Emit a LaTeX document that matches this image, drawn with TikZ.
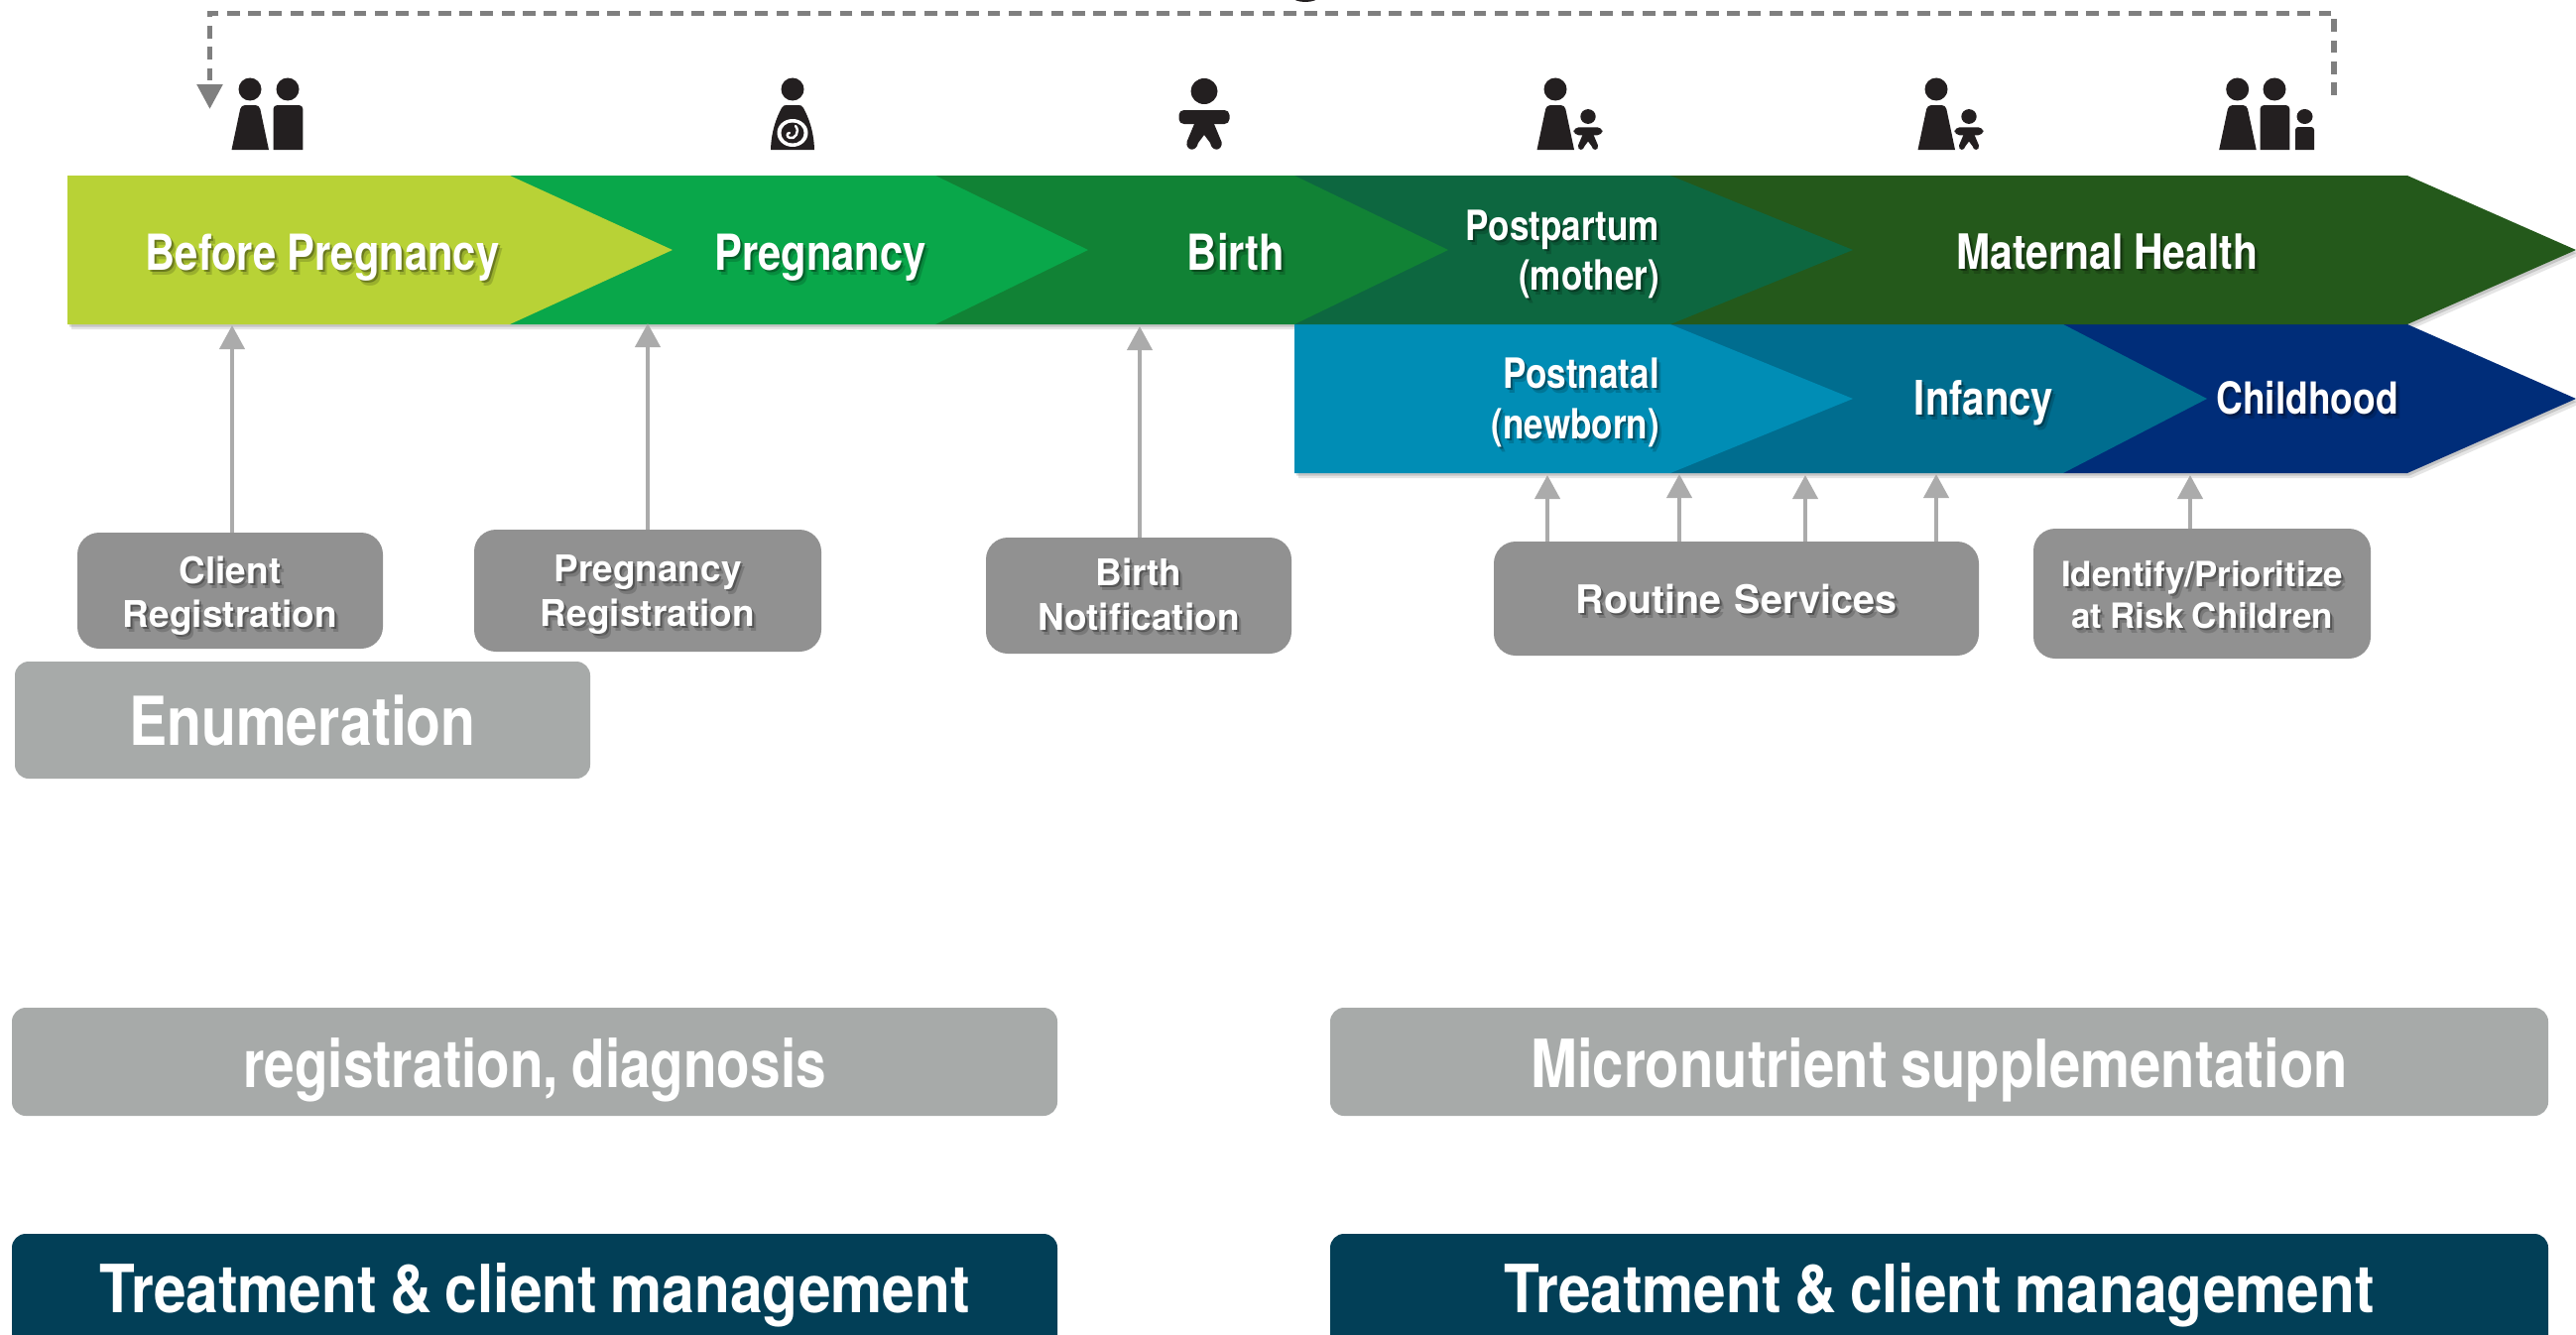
\documentclass[tikz,border=0pt]{standalone}
\usepackage{fontspec}
\usetikzlibrary{arrows.meta,calc}
\setmainfont{TeX Gyre Heros}
\newfontfamily\condf[FakeStretch=0.835,WordSpace=0.95]{TeX Gyre Heros}
\newfontfamily\boxf[FakeStretch=0.84]{TeX Gyre Heros}
\newfontfamily\regf[FakeStretch=0.82]{TeX Gyre Heros}
\newfontfamily\treatf[FakeStretch=0.875]{TeX Gyre Heros}
\definecolor{cLime}{HTML}{B8D236}
\definecolor{cGreen}{HTML}{09A74A}
\definecolor{cBirth}{HTML}{118235}
\definecolor{cPost}{HTML}{0D6740}
\definecolor{cMat}{HTML}{24591B}
\definecolor{cNewb}{HTML}{008DB5}
\definecolor{cInf}{HTML}{006D8F}
\definecolor{cChild}{HTML}{002D79}
\definecolor{cBox}{HTML}{919191}
\definecolor{cLight}{HTML}{A7AAA9}
\definecolor{cDark}{HTML}{023F57}
\definecolor{cArrow}{HTML}{ABABAB}
\definecolor{cDash}{HTML}{7F7F7F}
\definecolor{cIcon}{HTML}{231F20}
\tikzset{
  lab/.style={inner sep=0pt,outer sep=0pt,text=white,font=\bfseries},
  boxnode/.style={lab,rectangle,anchor=north west,align=center},
  softa/.style={lab,text=black,text opacity=.30},
  softb/.style={lab,text=black,text opacity=.16},
  upar/.style={draw=cArrow,line width=4pt,-{Triangle[length=24pt,width=25pt,fill=cArrow]}},
  looppath/.style={draw=cDash,line width=5.5pt,dash pattern=on 12.8pt off 8.5pt,-{Triangle[length=25pt,width=25pt,fill=cDash]}},
  woman/.pic={
    \fill[cIcon] (0,0) circle [x radius=11.5pt,y radius=11.5pt];
    \fill[cIcon] (-18.5,61) [rounded corners=4pt] -- (-9,16) -- (9.5,16) [sharp corners] -- (19,61) -- cycle;
  },
  man/.pic={
    \fill[cIcon] (0,0) circle [x radius=11.5pt,y radius=11.5pt];
    \fill[cIcon] (-14.5,61) [rounded corners=4pt] -- (-14.5,16) -- (15.4,16) [sharp corners] -- (15.4,61) -- cycle;
  },
  expecting/.pic={
    \fill[cIcon] (0,0) circle [x radius=11.5pt,y radius=11.5pt];
    \fill[cIcon] (-22,61) .. controls (-21.5,42) and (-16,28) .. (-11,19) .. controls (-10,16.5) and (-8,16) .. (-6,16) -- (6,16) .. controls (8,16) and (10,16.5) .. (11,19) .. controls (16,28) and (21.5,42) .. (22,61) -- cycle;
    \fill[white] (0,44) circle [x radius=15.5pt,y radius=14pt];
    \fill[cIcon] (0,44) circle [x radius=11.5pt,y radius=10.5pt];
    \draw[white,line width=2.4pt,line cap=round] (3,37) .. controls (8,43) and (2,51) .. (-3,49) .. controls (-6,48) and (-6,44) .. (-3,44);
  },
  infant/.pic={
    \fill[cIcon] (0,0) circle [x radius=13.5pt,y radius=13pt];
    \fill[cIcon,rounded corners=5pt] (-25.5,19) rectangle (25.5,33);
    \fill[cIcon] (-10,30) -- (-10,33) -- (-17.5,51) .. controls (-19,60) and (-8,62) .. (-6,52) -- (0,44) -- (6,52) .. controls (8,62) and (19,60) .. (17.5,51) -- (10,33) -- (10,30) -- cycle;
  },
  kid/.pic={
    \fill[cIcon] (0,0) circle [x radius=8pt,y radius=7.5pt];
    \fill[cIcon] (-9.5,33.5) [rounded corners=3pt] -- (-9.5,10.5) -- (9.5,10.5) [sharp corners] -- (9.5,33.5) -- cycle;
  }
}
% row shadow: left, top, shoulder, tip
\newcommand\rowshade[4]{%
  \fill[black,opacity=.10] ($(#1,#2)+(4,5)$) -- ($(#3,#2)+(4,5)$) -- ($(#4,#2+75)+(4,5)$) -- ($(#3,#2+150)+(4,5)$) -- ($(#1,#2+150)+(4,5)$) -- cycle;
  \fill[black,opacity=.14] ($(#1,#2)+(2,2.5)$) -- ($(#3,#2)+(2,2.5)$) -- ($(#4,#2+75)+(2,2.5)$) -- ($(#3,#2+150)+(2,2.5)$) -- ($(#1,#2+150)+(2,2.5)$) -- cycle;
}
% chevron: left, top, shoulder, tip, colour
\newcommand\chev[5]{%
  \fill[#5] (#1,#2) -- (#3,#2) -- (#4,#2+75) -- (#3,#2+150) -- (#1,#2+150) -- cycle;
}
% chevron label: name, x, baseline of the last line, anchor, align, font, text
\newcommand\chlab[7]{%
  \node[softb,anchor=#4,align=#5,font=\bfseries#6] (#1s2) at (#2+4,#3+5) {#7};
  \node[softa,anchor=#4,align=#5,font=\bfseries#6] (#1s1) at (#2+2,#3+2.5) {#7};
  \node[lab,anchor=#4,align=#5,font=\bfseries#6] (#1) at (#2,#3) {#7};
}
% box: name, colour, x0, y0, w, h, first baseline, radius, font; text in \boxtext
\newcommand\boxplain[9]{%
  \pgfmathsetmacro\depthv{#6-#7}%
  \node[boxnode,fill=#2,rounded corners=#8pt,font=\bfseries#9,text width=#5pt,text height=#7pt,text depth=\depthv pt,minimum height=#6pt] (#1) at (#3,#4) {\boxtext};
}
\newcommand\boxsoft[9]{%
  \pgfmathsetmacro\depthv{#6-#7}%
  \pgfmathsetmacro\xa{#3+2}\pgfmathsetmacro\ya{#4+2.5}%
  \pgfmathsetmacro\xb{#3+4}\pgfmathsetmacro\yb{#4+5}%
  \fill[#2,rounded corners=#8pt] (#3,#4) rectangle ++(#5,#6);
  \node[softb,anchor=north west,align=center,font=\bfseries#9,text width=#5pt,text height=#7pt,text depth=\depthv pt] (#1s2) at (\xb,\yb) {\boxtext};
  \node[softa,anchor=north west,align=center,font=\bfseries#9,text width=#5pt,text height=#7pt,text depth=\depthv pt] (#1s1) at (\xa,\ya) {\boxtext};
  \node[boxnode,font=\bfseries#9,text width=#5pt,text height=#7pt,text depth=\depthv pt,minimum height=#6pt] (#1) at (#3,#4) {\boxtext};
}
\begin{document}
\begin{tikzpicture}[x=1pt,y=-1pt]
\useasboundingbox (0,0) rectangle (2597,1346);
% clipped fragment at the upper edge
\fill[cIcon] (1316,-3) circle [x radius=13pt,y radius=5pt];
% chevrons
\rowshade{68}{177}{2427}{2597}
\rowshade{1305}{327}{2427}{2597}
\chev{2080}{327}{2427}{2597}{cChild}
\chev{1684}{327}{2080}{2225}{cInf}
\chev{1305}{327}{1684}{1868}{cNewb}
\chev{1684}{177}{2427}{2597}{cMat}
\chev{1305}{177}{1684}{1868}{cPost}
\chev{943}{177}{1305}{1460}{cBirth}
\chev{514}{177}{943}{1097}{cGreen}
\chev{68}{177}{514}{678}{cLime}
% chevron labels
\chlab{before}{325}{272}{base}{center}{\condf\fontsize{50}{50}\selectfont}{Before Pregnancy}
\chlab{preg}{827}{272}{base}{center}{\condf\fontsize{50}{50}\selectfont}{Pregnancy}
\chlab{birth}{1246}{272}{base}{center}{\condf\fontsize{50}{50}\selectfont}{Birth}
\chlab{postp}{1673}{292}{base east}{right}{\condf\fontsize{42}{50}\selectfont}{Postpartum\\(mother)}
\chlab{matern}{2124.5}{271}{base}{center}{\condf\fontsize{49}{50}\selectfont}{Maternal Health}
\chlab{postn}{1673}{442}{base east}{right}{\condf\fontsize{42}{51}\selectfont}{Postnatal\\(newborn)}
\chlab{infancy}{2000}{418}{base}{center}{\condf\fontsize{48}{50}\selectfont}{Infancy}
\chlab{childh}{2326}{417}{base}{center}{\condf\fontsize{44.5}{50}\selectfont}{Childhood}
% boxes
\def\boxtext{Client\\Registration}
\boxsoft{client}{cBox}{78}{537}{308}{117}{51}{22}{\fontsize{37}{44}\selectfont}
\def\boxtext{Pregnancy\\Registration}
\boxsoft{pregreg}{cBox}{478}{534}{350}{123}{52}{22}{\fontsize{37}{45}\selectfont}
\def\boxtext{Birth\\Notification}
\boxsoft{birthnot}{cBox}{994}{542}{308}{117}{48}{22}{\fontsize{37}{45}\selectfont}
\def\boxtext{Routine Services}
\boxsoft{routine}{cBox}{1506}{546}{489}{115}{72}{22}{\fontsize{39.5}{44}\selectfont}
\def\boxtext{\spaceskip=.24em\relax Identify/Prioritize\\at Risk Children}
\boxsoft{risk}{cBox}{2050}{533}{340}{131}{58}{22}{\fontsize{35}{42}\selectfont}
\def\boxtext{Enumeration}
\boxplain{enum}{cLight}{15}{667}{580}{118}{84}{14}{\boxf\fontsize{68}{70}\selectfont}
\def\boxtext{\spaceskip=.2em\relax registration, diagnosis}
\boxplain{regdiag}{cLight}{12}{1016}{1054}{109}{80}{14}{\regf\fontsize{67}{70}\selectfont}
\def\boxtext{\spaceskip=.2em\relax Micronutrient supplementation}
\boxplain{micro}{cLight}{1341}{1016}{1228}{109}{80}{14}{\boxf\fontsize{67}{70}\selectfont}
\def\boxtext{\spaceskip=.2em\relax Treatment \& client management}
\boxplain{treatl}{cDark}{12}{1244}{1054}{125}{79}{14}{\treatf\fontsize{67}{70}\selectfont}
\boxplain{treatr}{cDark}{1341}{1244}{1228}{125}{79}{14}{\treatf\fontsize{67}{70}\selectfont}
% arrow ends
\coordinate (t1) at (234,328);
\coordinate (t2) at (653,326);
\coordinate (t3) at (1149,329);
\coordinate (t4) at (1560,479);
\coordinate (t5) at (1693,478);
\coordinate (t6) at (1820,479);
\coordinate (t7) at (1952,478);
\coordinate (t8) at (2208,479);
\draw[upar] (t1 |- client.north) -- (t1);
\draw[upar] (t2 |- pregreg.north) -- (t2);
\draw[upar] (t3 |- birthnot.north) -- (t3);
\draw[upar] (t4 |- routine.north) -- (t4);
\draw[upar] (t5 |- routine.north) -- (t5);
\draw[upar] (t6 |- routine.north) -- (t6);
\draw[upar] (t7 |- routine.north) -- (t7);
\draw[upar] (t8 |- risk.north) -- (t8);
% dashed return loop
\coordinate (loopa) at (2353,96);
\coordinate (loopb) at (2353,13.5);
\coordinate (loopc) at (211.5,13.5);
\coordinate (loopd) at (211.5,110);
\draw[looppath] (loopa) -- (loopb) -- (loopc) -- (loopd);
% icons
\pic at (252,90) {woman};
\pic at (290,90) {man};
\pic at (799,90) {expecting};
\pic at (1214,92) {infant};
\pic at (1568,90) {woman};
\pic[scale=.57] at (1601,117.5) {infant};
\pic at (1952,90) {woman};
\pic[scale=.57] at (1985,117.5) {infant};
\pic at (2255.7,90) {woman};
\pic at (2293,90) {man};
\pic at (2323.5,117.5) {kid};
\end{tikzpicture}
\end{document}
